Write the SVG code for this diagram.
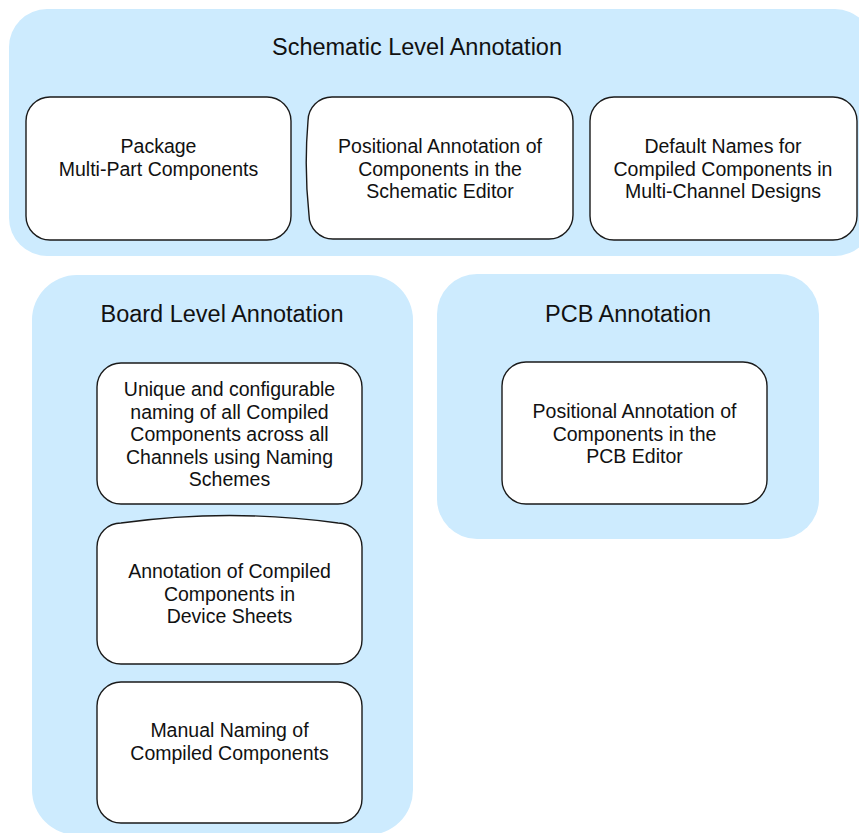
<svg xmlns="http://www.w3.org/2000/svg" width="859" height="833" viewBox="0 0 859 833">
<style>
.panel{fill:#cdebfe;stroke:none}
.node{fill:#ffffff;stroke:#1a1a1a;stroke-width:1.4}
.title{font-family:"Liberation Sans",Arial,sans-serif;font-size:23.5px;fill:#111;text-anchor:middle}
.lbl{font-family:"Liberation Sans",Arial,sans-serif;font-size:19.5px;fill:#111;text-anchor:middle}
</style>
<rect width="859" height="833" fill="#ffffff"/>
<g id="schematic-level">
<rect class="panel" x="9" y="9" width="864" height="247" rx="38" ry="38"/>
<text class="title" x="417" y="55">Schematic Level Annotation</text>
</g>
<g id="board-level">
<rect class="panel" x="32" y="275" width="381" height="560" rx="45" ry="45"/>
<text class="title" x="222" y="322">Board Level Annotation</text>
</g>
<g id="pcb-level">
<rect class="panel" x="437" y="274" width="382" height="265" rx="40" ry="40"/>
<text class="title" x="628" y="322">PCB Annotation</text>
</g>
<g id="node-package">
<rect class="node" x="26" y="97" width="265" height="143" rx="24" ry="24"/>
<text class="lbl" x="158.5" y="153">Package</text>
<text class="lbl" x="158.5" y="175.5">Multi-Part Components</text>
</g>
<g id="node-positional-sch">
<path class="node" d="M332,97 H549 A24,24 0 0 1 573,121 V215 A24,24 0 0 1 549,239 H333 A24,24 0 0 1 309,215 Q304,168 308,121 A24,24 0 0 1 332,97 Z"/>
<text class="lbl" x="440" y="153">Positional Annotation of</text>
<text class="lbl" x="440" y="175.5">Components in the</text>
<text class="lbl" x="440" y="198">Schematic Editor</text>
</g>
<g id="node-default-names">
<rect class="node" x="590" y="97" width="267" height="143" rx="24" ry="24"/>
<text class="lbl" x="723" y="153">Default Names for</text>
<text class="lbl" x="723" y="175.5">Compiled Components in</text>
<text class="lbl" x="723" y="198">Multi-Channel Designs</text>
</g>
<g id="node-unique">
<rect class="node" x="97" y="363" width="265" height="141" rx="24" ry="24"/>
<text class="lbl" x="229.5" y="396">Unique and configurable</text>
<text class="lbl" x="229.5" y="418.5">naming of all Compiled</text>
<text class="lbl" x="229.5" y="441">Components across all</text>
<text class="lbl" x="229.5" y="463.5">Channels using Naming</text>
<text class="lbl" x="229.5" y="486">Schemes</text>
</g>
<g id="node-device-sheets">
<path class="node" d="M97,547 A24,24 0 0 1 121,523 Q229.5,508 338,523 A24,24 0 0 1 362,547 V640 A24,24 0 0 1 338,664 H121 A24,24 0 0 1 97,640 Z"/>
<text class="lbl" x="229.5" y="578">Annotation of Compiled</text>
<text class="lbl" x="229.5" y="600.5">Components in</text>
<text class="lbl" x="229.5" y="623">Device Sheets</text>
</g>
<g id="node-manual">
<rect class="node" x="97" y="682" width="265" height="141" rx="24" ry="24"/>
<text class="lbl" x="229.5" y="737">Manual Naming of</text>
<text class="lbl" x="229.5" y="759.5">Compiled Components</text>
</g>
<g id="node-positional-pcb">
<rect class="node" x="502" y="362" width="265" height="142" rx="24" ry="24"/>
<text class="lbl" x="634.5" y="418">Positional Annotation of</text>
<text class="lbl" x="634.5" y="440.5">Components in the</text>
<text class="lbl" x="634.5" y="463">PCB Editor</text>
</g>
<g id="connectors"/>
</svg>
